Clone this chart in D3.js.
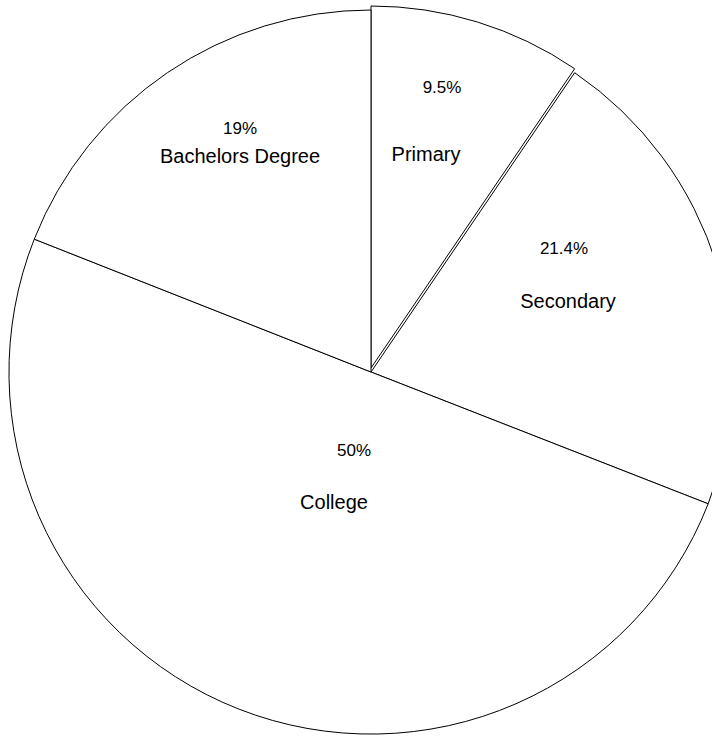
<!DOCTYPE html>
<html>
<head>
<meta charset="utf-8">
<script src="https://cdn.jsdelivr.net/npm/d3@7"></script>
<style>
  body { margin: 0; background: #fff; }
  #chart { width: 712px; height: 736px; }
  .pct { font-family: "Liberation Sans", Arial, sans-serif; font-size: 17px; fill: #000; }
  .cat { font-family: "Liberation Sans", Arial, sans-serif; font-size: 20px; fill: #000; }
</style>
</head>
<body>
<div id="chart"></div>
<script>
// data
const categories = ["Primary", "Secondary", "College", "Bachelors Degree"];
const values = [9.5, 21.4, 50, 19];
const pctLabels = ["9.5%", "21.4%", "50%", "19%"];

/* SVG */
const width = 712;
const height = 736;
const cx = 371, cy = 372, radius = 362;

const svg = d3.select("#chart")
    .append("svg")
    .attr("width", width)
    .attr("height", height);

const g = svg.append("g")
    .attr("transform", `translate(${cx},${cy})`);

/* PIE */
const pie = d3.pie().sort(null).value(d => d.value);
const arc = d3.arc().innerRadius(0).outerRadius(radius);

const data = categories.map((c, i) => ({cat: c, value: values[i], pct: pctLabels[i]}));
const arcs = pie(data);

// primary slice is nudged up a few pixels
const lift = [4, 0, 0, 0];

g.selectAll("path.slice")
    .data(arcs)
    .enter()
    .append("path")
    .attr("class", "slice")
    .attr("d", arc)
    .attr("transform", (d, i) => `translate(0,${-lift[i]})`)
    .attr("fill", "#fff")
    .attr("stroke", "#000")
    .attr("stroke-width", 1);

/* LABELS - placed relative to centre (layout, not data) */
const pctPos = [[71, -279], [193, -118], [-17, 84], [-131, -238]];
const catPos = [[55, -211], [197, -64], [-37, 137], [-131, -209]];

g.selectAll("text.pct")
    .data(arcs)
    .enter()
    .append("text")
    .attr("class", "pct")
    .attr("text-anchor", "middle")
    .attr("x", (d, i) => pctPos[i][0])
    .attr("y", (d, i) => pctPos[i][1])
    .text(d => d.data.pct);

g.selectAll("text.cat")
    .data(arcs)
    .enter()
    .append("text")
    .attr("class", "cat")
    .attr("text-anchor", "middle")
    .attr("x", (d, i) => catPos[i][0])
    .attr("y", (d, i) => catPos[i][1])
    .text(d => d.data.cat);
</script>
</body>
</html>
